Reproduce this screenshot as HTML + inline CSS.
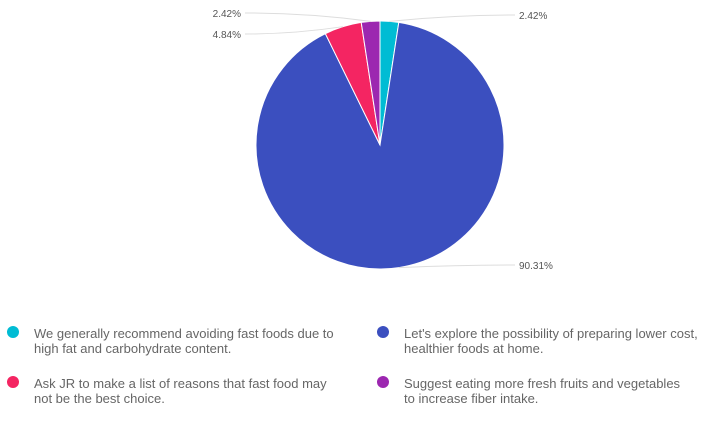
<!DOCTYPE html>
<html><head><meta charset="utf-8"><style>
body{margin:0;width:715px;height:421px;background:#fff;font-family:"Liberation Sans",sans-serif;overflow:hidden;position:relative}
.leg{position:absolute;font-size:13px;color:#666;line-height:15px}
.dot{position:absolute;width:12px;height:12px;border-radius:50%}
</style></head><body>
<svg width="715" height="300" style="position:absolute;left:0;top:0" id="svg"></svg>
<div class="dot" style="left:7px;top:326px;background:#00bcd4"></div>
<div class="leg" style="left:34px;top:326px;width:320px">We generally recommend avoiding fast foods due to high fat and carbohydrate content.</div>
<div class="dot" style="left:377px;top:326px;background:#3b4fbf"></div>
<div class="leg" style="left:404px;top:326px;width:310px">Let's explore the possibility of preparing lower cost, healthier foods at home.</div>
<div class="dot" style="left:7px;top:376px;background:#f42562"></div>
<div class="leg" style="left:34px;top:376px;width:310px">Ask JR to make a list of reasons that fast food may not be the best choice.</div>
<div class="dot" style="left:377px;top:376px;background:#9c27b0"></div>
<div class="leg" style="left:404px;top:376px;width:290px">Suggest eating more fresh fruits and vegetables to increase fiber intake.</div>
<script>
const categories=["Avoid fast foods","Prepare at home","Ask JR list","Fruits and vegetables"];
const values=[2.42,90.31,4.84,2.42];
const colors=["#00bcd4","#3b4fbf","#f42562","#9c27b0"];
const svg=document.getElementById('svg');
const NS="http://www.w3.org/2000/svg";
const cx=380,cy=145,r=124;
const total=values.reduce((a,b)=>a+b,0);
let a0=0;
function pt(a,rr){return [cx+rr*Math.sin(a),cy-rr*Math.cos(a)];}
const labelPos=[[519,18,'start'],[519,268,'start'],[241,37,'end'],[241,16,'end']];
values.forEach((v,i)=>{
  const a1=a0+v/total*2*Math.PI;
  const [x0,y0]=pt(a0,r),[x1,y1]=pt(a1,r);
  const p=document.createElementNS(NS,'path');
  p.setAttribute('d',`M${cx},${cy}L${x0},${y0}A${r},${r} 0 ${a1-a0>Math.PI?1:0} 1 ${x1},${y1}Z`);
  p.setAttribute('fill',colors[i]);p.setAttribute('stroke','#fff');p.setAttribute('stroke-width','1');
  
  
  svg.appendChild(p);
  const am=(a0+a1)/2;const [mx,my]=pt(am,r);
  const L=labelPos[i];
  const ln=document.createElementNS(NS,'path');
  const ex=L[2]==='start'?L[0]-4:L[0]+4;
  ln.setAttribute('d',`M${mx},${my}Q${(mx+ex)/2},${L[1]-3} ${ex},${L[1]-3}`);
  ln.setAttribute('fill','none');ln.setAttribute('stroke','#ddd');
  
  
  svg.appendChild(ln);
  const t=document.createElementNS(NS,'text');
  t.setAttribute('x',L[0]);t.setAttribute('y',L[1]+1);t.setAttribute('text-anchor',L[2]);
  t.setAttribute('font-size','10');t.setAttribute('fill','#555');
  t.textContent=v.toFixed(2)+'%';
  
  
  svg.appendChild(t);
  a0=a1;
});
</script>
</body></html>
